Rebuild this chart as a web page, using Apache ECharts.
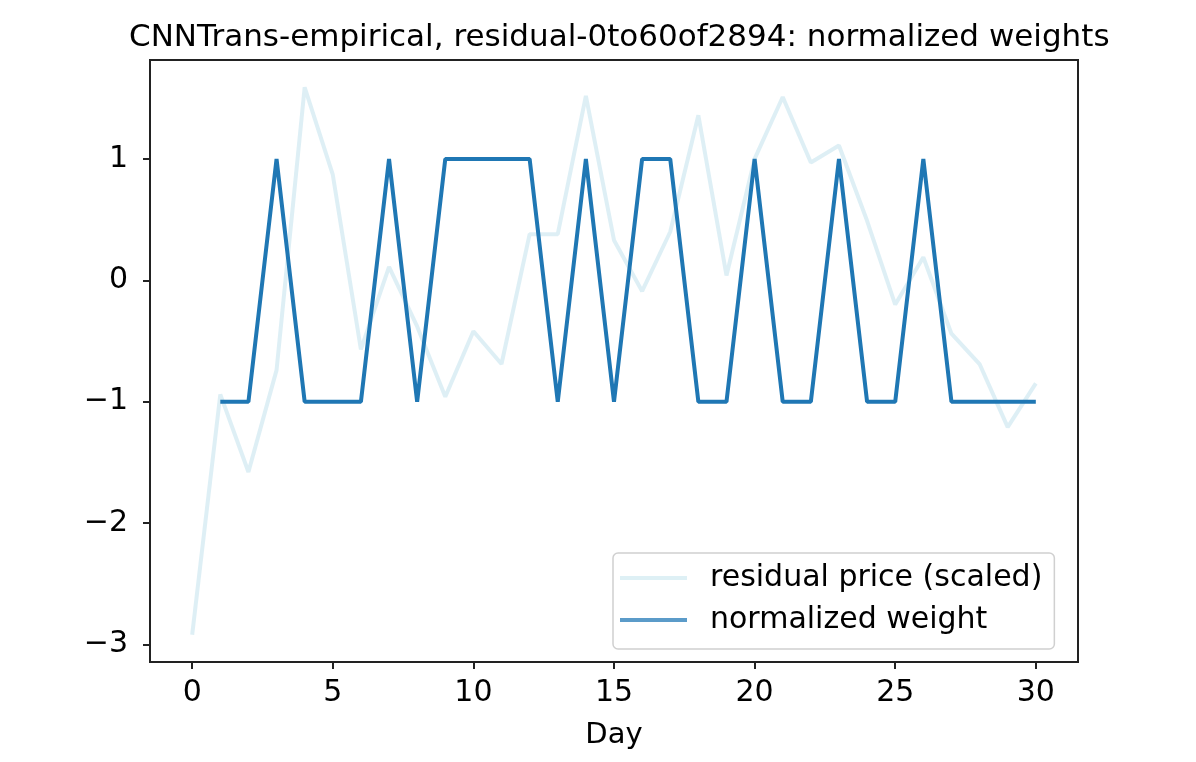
<!DOCTYPE html>
<html>
<head>
<meta charset="utf-8">
<script src="https://cdn.jsdelivr.net/npm/echarts@6/dist/echarts.min.js"></script>
<style>
html,body{margin:0;padding:0;background:#fff;}
#chart{width:1196px;height:762px;}
</style>
</head>
<body>
<div id="chart"></div>
<script>
const titleText = 'CNNTrans-empirical, residual-0to60of2894: normalized weights';
const days = [0,1,2,3,4,5,6,7,8,9,10,11,12,13,14,15,16,17,18,19,20,21,22,23,24,25,26,27,28,29,30];
const residualPrice = [-2.92,-0.94,-1.58,-0.74,1.59,0.87,-0.57,0.11,-0.38,-0.96,-0.42,-0.69,0.38,0.38,1.52,0.33,-0.09,0.40,1.36,0.04,1.00,1.51,0.97,1.11,0.49,-0.20,0.19,-0.44,-0.69,-1.21,-0.85];
const normalizedWeight = [null,-1,-1,1,-1,-1,-1,1,-1,1,1,1,1,-1,1,-1,1,1,-1,-1,1,-1,-1,1,-1,-1,1,-1,-1,-1,-1];
const xTicks = [0,5,10,15,20,25,30];
const yTicks = [-3,-2,-1,0,1];
const seriesNames = ['residual price (scaled)','normalized weight'];

const FONT = 'DejaVu Sans';
const fmt = v => (v < 0 ? '\u2212' + Math.abs(v) : String(v));

const chart = echarts.init(document.getElementById('chart'), null, {renderer:'canvas'});
chart.setOption({
  animation:false,
  backgroundColor:'#fff',
  title:{
    text:titleText, left:124, top:17,
    textStyle:{fontFamily:FONT, fontSize:31, fontWeight:'normal', color:'#000'}
  },
  grid:{left:150, right:118, top:60, bottom:100, show:true, borderColor:'#222', borderWidth:2, backgroundColor:'transparent'},
  legend:{
    orient:'vertical', left:613, top:553,
    padding:[10,12,14,7], itemGap:12,
    itemWidth:67, itemHeight:4,
    backgroundColor:'rgba(255,255,255,0.8)', borderColor:'#d0d0d0', borderWidth:1.5, borderRadius:5,
    textStyle:{fontFamily:FONT, fontSize:30, color:'#000', padding:[0,0,0,18]},
    data:[
      {name:seriesNames[0], icon:'rect', itemStyle:{color:'#def0f5'}},
      {name:seriesNames[1], icon:'rect', itemStyle:{color:'#5b9bc9'}}
    ]
  },
  xAxis:{
    type:'value', min:-1.5, max:31.5,
    name:'Day', nameLocation:'middle', nameGap:59,
    nameTextStyle:{fontFamily:FONT, fontSize:29, color:'#000'},
    axisLine:{show:true, onZero:false, lineStyle:{color:'#222', width:2}},
    axisTick:{show:true, inside:false, length:7, lineStyle:{color:'#222', width:2}, customValues:xTicks},
    axisLabel:{show:true, margin:16, fontFamily:FONT, fontSize:30, color:'#000', customValues:xTicks, formatter:fmt},
    splitLine:{show:false}
  },
  yAxis:{
    type:'value', min:-3.145, max:1.815,
    axisLine:{show:true, onZero:false, lineStyle:{color:'#222', width:2}},
    axisTick:{show:true, inside:false, length:7, lineStyle:{color:'#222', width:2}, customValues:yTicks},
    axisLabel:{show:true, margin:22, fontFamily:FONT, fontSize:30, color:'#000', customValues:yTicks, formatter:fmt},
    splitLine:{show:false}
  },
  series:[
    {
      name:seriesNames[0], type:'line', symbol:'none', showSymbol:false,
      data:days.map((d,i)=>[d,residualPrice[i]]),
      lineStyle:{color:'#add8e6', width:4, opacity:0.4},
      itemStyle:{color:'#def0f5'}, z:2
    },
    {
      name:seriesNames[1], type:'line', symbol:'none', showSymbol:false,
      data:days.map((d,i)=>[d,normalizedWeight[i]]),
      connectNulls:false,
      lineStyle:{color:'#1f77b4', width:4},
      itemStyle:{color:'#1f77b4'}, z:3
    }
  ]
});
</script>
</body>
</html>
